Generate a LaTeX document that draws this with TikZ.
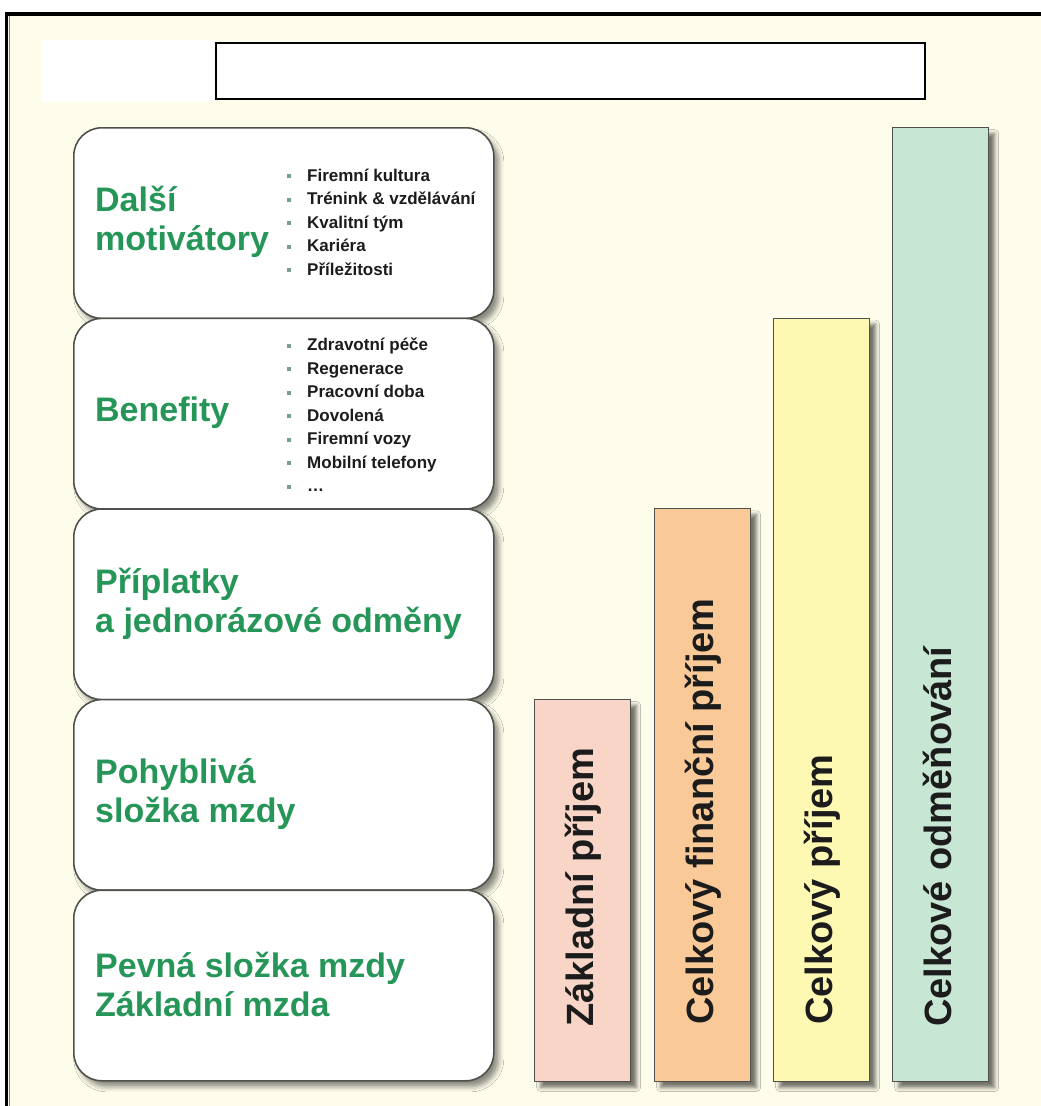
\documentclass[tikz,border=0pt]{standalone}
\usepackage{fontspec}
\setmainfont{Liberation Sans}
\usetikzlibrary{shadows.blur}
\definecolor{bg}{RGB}{254,252,234}
\definecolor{grn}{RGB}{38,150,88}
\definecolor{txt}{RGB}{28,28,28}
\definecolor{bulc}{RGB}{120,160,140}
\definecolor{edge}{RGB}{80,80,76}
\definecolor{cpink}{RGB}{248,213,199}
\definecolor{corange}{RGB}{250,201,152}
\definecolor{cyellow}{RGB}{253,248,178}
\definecolor{cmint}{RGB}{200,230,212}
\newcommand{\bul}{\makebox[20pt][l]{\textcolor{bulc}{\rule[3pt]{4pt}{4pt}}}}
\tikzset{
  layerbox/.style={draw=edge, line width=1.6pt, fill=white, rounded corners=28pt,
    minimum width=420pt, minimum height=190.6pt, inner sep=0pt, anchor=north west,
    blur shadow={shadow xshift=5pt, shadow yshift=-6pt, shadow blur radius=5pt, shadow opacity=45}},
  glabel/.style={anchor=west, align=left, inner sep=0pt, text=grn,
    font=\fontsize{34}{39}\selectfont\bfseries},
  lst/.style={anchor=west, align=left, inner sep=0pt, text=txt,
    font=\fontsize{17}{23.5}\selectfont\bfseries},
  bar/.style={draw=edge, line width=1.2pt, inner sep=0pt, anchor=north west,
    minimum width=96pt,
    blur shadow={shadow xshift=6pt, shadow yshift=-6pt, shadow blur radius=4pt, shadow opacity=55}},
  bartext/.style={anchor=base west, rotate=90, inner sep=0pt, text=txt,
    font=\fontsize{38}{40}\selectfont\bfseries}
}
\begin{document}
\begin{tikzpicture}[x=1pt,y=-1pt]
\useasboundingbox (0,0) rectangle (1041,1106);
\fill[white] (0,0) rectangle (1041,1106);
\fill[bg] (8,15) rectangle (1041,1106);
\draw[black, line width=4pt] (5,14) -- (1041,14);
\draw[black, line width=3.5pt] (6.5,12) -- (6.5,1106);
\draw[gray, line width=1pt] (9.5,16) -- (9.5,1106);
% top white areas
\node[fill=white, inner sep=0pt, minimum width=175pt, minimum height=62pt, anchor=north west] (patch) at (41,40) {};
\node[draw=black, line width=2pt, fill=white, inner sep=0pt, minimum width=709pt, minimum height=56pt, anchor=north west] (title) at (215,42) {};
% layer boxes
\node[layerbox] (b1) at (73,127) {};
\node[layerbox] (b2) at (73,317.6) {};
\node[layerbox] (b3) at (73,508.2) {};
\node[layerbox] (b4) at (73,698.8) {};
\node[layerbox] (b5) at (73,889.4) {};
% labels
\node[glabel] (l1) at (95,222.3) {Další\\motivátory};
\node[glabel] (l2) at (95,412.9) {Benefity};
\node[glabel] (l3) at (95,603.5) {Příplatky\\a jednorázové odměny};
\node[glabel] (l4) at (95,794.1) {Pohyblivá\\složka mzdy};
\node[glabel] (l5) at (95,984.7) {Pevná složka mzdy\\Základní mzda};
% lists
\node[lst] (li1) at (287,222.3) {\bul Firemní kultura\\\bul Trénink \& vzdělávání\\\bul Kvalitní tým\\\bul Kariéra\\\bul Příležitosti};
\node[lst] (li2) at (287,415) {\bul Zdravotní péče\\\bul Regenerace\\\bul Pracovní doba\\\bul Dovolená\\\bul Firemní vozy\\\bul Mobilní telefony\\\bul \dots};
% bars
\node[bar, fill=cpink, minimum height=382pt] (r1) at (534,698.8) {};
\node[bar, fill=corange, minimum height=572.8pt] (r2) at (654,508.2) {};
\node[bar, fill=cyellow, minimum height=763.4pt] (r3) at (773,317.6) {};
\node[bar, fill=cmint, minimum height=954pt] (r4) at (892,127) {};
\node[bartext] (t1) at (593,1027) {Základní příjem};
\node[bartext] (t2) at (713,1025) {Celkový finanční příjem};
\node[bartext] (t3) at (832,1025) {Celkový příjem};
\node[bartext] (t4) at (951,1027) {Celkové odměňování};
\end{tikzpicture}
\end{document}
